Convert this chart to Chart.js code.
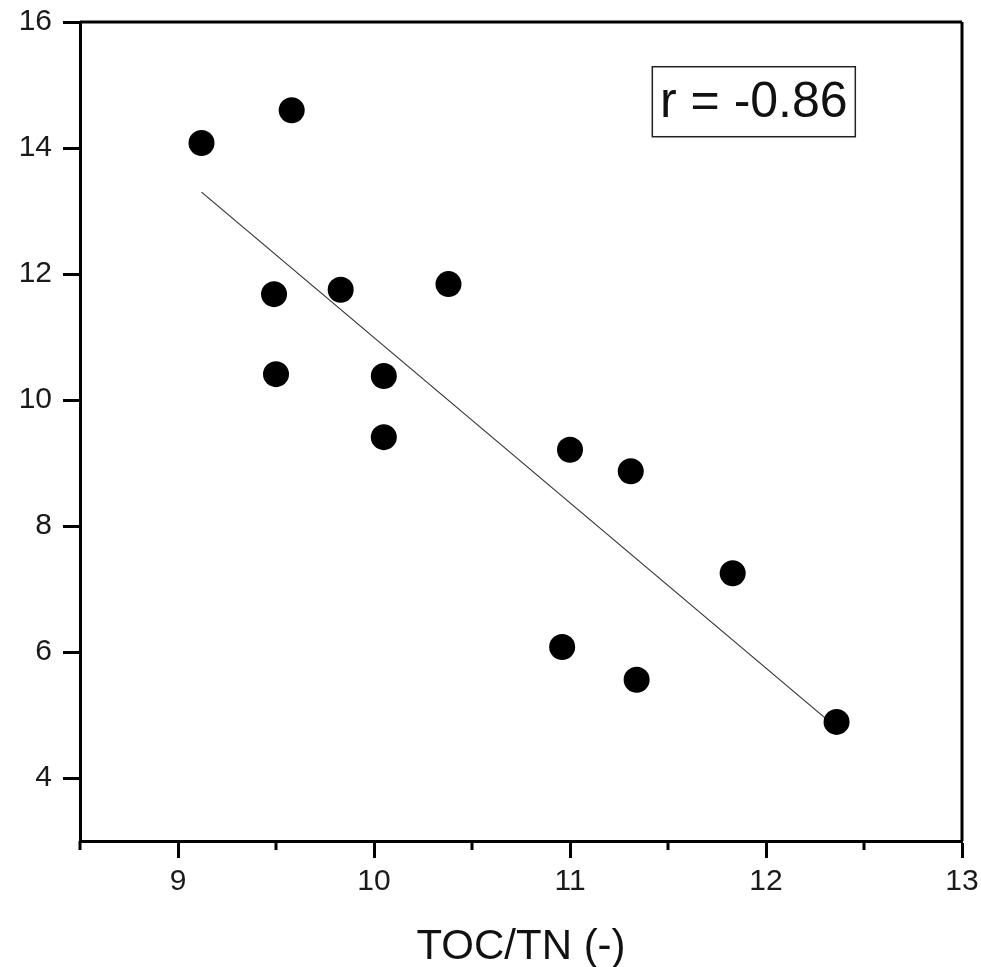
<!DOCTYPE html>
<html>
<head>
<meta charset="utf-8">
<script src="https://cdn.jsdelivr.net/npm/chart.js@4/dist/chart.umd.min.js"></script>
<style>
  html, body { margin: 0; padding: 0; background: #fff; }
  #wrap { width: 981px; height: 967px; position: relative; }
</style>
</head>
<body>
<div id="wrap"><canvas id="c" width="981" height="967"></canvas></div>
<script>
// ---- data ----
const tocTn = [9.12, 9.58, 9.49, 9.50, 9.83, 10.38, 10.05, 10.05, 11.00, 11.31, 11.83, 10.96, 11.34, 12.36];
const yValues = [14.08, 14.60, 11.68, 10.41, 11.75, 11.84, 10.38, 9.41, 9.21, 8.87, 7.25, 6.08, 5.56, 4.89];
const fitX = [9.12, 12.36];
const fitY = [13.30, 4.80];
const xTickValues = [8.5, 9, 9.5, 10, 10.5, 11, 11.5, 12, 12.5, 13];
const yTickValues = [4, 6, 8, 10, 12, 14, 16];
const xTitle = 'TOC/TN (-)';
const annotationText = 'r = -0.86';
const annotationAt = [11.42, 15.29];

const FONT = '"Liberation Sans", Arial, sans-serif';
const INK = '#1a1a1a';

const framePlugin = {
  id: 'frame',
  afterDraw(chart) {
    const { ctx, chartArea: a, scales } = chart;
    ctx.save();
    ctx.strokeStyle = '#000';
    ctx.lineWidth = 3;
    ctx.lineCap = 'butt';
    // top and right frame lines
    ctx.beginPath();
    ctx.moveTo(a.left, a.top);
    ctx.lineTo(a.right, a.top);
    ctx.moveTo(a.right, a.top);
    ctx.lineTo(a.right, a.bottom);
    ctx.stroke();
    // minor ticks on x axis
    ctx.beginPath();
    xTickValues.forEach(v => {
      if (v % 1 !== 0) {
        const px = scales.x.getPixelForValue(v);
        ctx.moveTo(px, a.bottom);
        ctx.lineTo(px, a.bottom + 9);
      }
    });
    ctx.stroke();
    // annotation box
    const bx = scales.x.getPixelForValue(annotationAt[0]);
    const by = scales.y.getPixelForValue(annotationAt[1]);
    const bw = 203, bh = 70;
    ctx.fillStyle = '#fff';
    ctx.fillRect(bx, by, bw, bh);
    ctx.lineWidth = 1.5;
    ctx.strokeStyle = '#222';
    ctx.strokeRect(bx, by, bw, bh);
    ctx.fillStyle = '#111';
    ctx.font = '50px ' + FONT;
    ctx.textAlign = 'center';
    ctx.textBaseline = 'alphabetic';
    ctx.fillText(annotationText, bx + bw / 2, by + 50);
    ctx.restore();
  }
};

function zeroPad(s) {
  s.paddingTop = 0; s.paddingBottom = 0; s.paddingLeft = 0; s.paddingRight = 0;
}

new Chart(document.getElementById('c'), {
  data: {
    datasets: [
      {
        type: 'scatter',
        data: tocTn.map((x, i) => ({ x, y: yValues[i] })),
        backgroundColor: '#000',
        borderColor: '#000',
        borderWidth: 0,
        pointRadius: 13,
        pointHoverRadius: 13,
        order: 0
      },
      {
        type: 'line',
        data: fitX.map((x, i) => ({ x, y: fitY[i] })),
        borderColor: '#333',
        borderWidth: 1.2,
        pointRadius: 0,
        fill: false,
        order: 1
      }
    ]
  },
  options: {
    responsive: false,
    animation: false,
    events: [],
    layout: { padding: { top: 22, right: 19, left: 0, bottom: 0 } },
    plugins: { legend: { display: false }, tooltip: { enabled: false } },
    scales: {
      x: {
        type: 'linear',
        min: 8.5,
        max: 13,
        afterBuildTicks: s => { s.ticks = xTickValues.map(v => ({ value: v })); },
        afterFit: s => { s.height = 126; zeroPad(s); },
        border: { display: true, color: '#000', width: 3 },
        grid: {
          drawOnChartArea: false,
          drawTicks: true,
          tickLength: 17,
          tickWidth: 3,
          tickColor: c => (c.tick && c.tick.value % 1 === 0 ? '#000' : 'rgba(0,0,0,0)')
        },
        ticks: {
          autoSkip: false,
          maxRotation: 0,
          padding: 6,
          color: INK,
          font: { family: FONT, size: 30 },
          callback: v => (v % 1 === 0 ? String(v) : '')
        },
        title: {
          display: true,
          text: xTitle,
          color: '#111',
          font: { family: FONT, size: 42 },
          padding: { top: 0, bottom: -6 }
        }
      },
      y: {
        type: 'linear',
        min: 3,
        max: 16,
        afterBuildTicks: s => { s.ticks = yTickValues.map(v => ({ value: v })); },
        afterFit: s => { s.width = 80; zeroPad(s); },
        border: { display: true, color: '#000', width: 3 },
        grid: {
          drawOnChartArea: false,
          drawTicks: true,
          tickLength: 17,
          tickWidth: 3,
          tickColor: '#000'
        },
        ticks: {
          padding: 11,
          color: INK,
          font: { family: FONT, size: 30 }
        }
      }
    }
  },
  plugins: [framePlugin]
});
</script>
</body>
</html>
